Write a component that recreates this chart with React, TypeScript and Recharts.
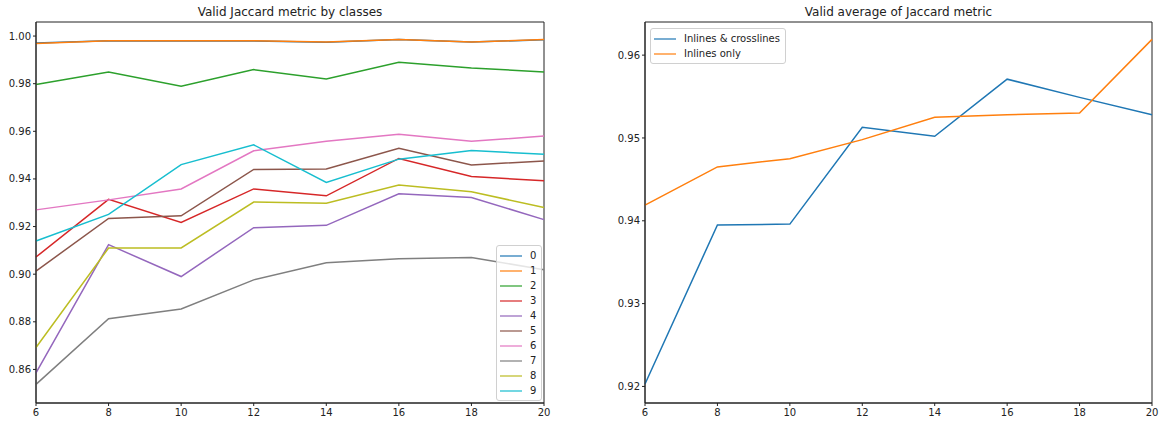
import { LineChart, Line, XAxis, YAxis, Legend, ReferenceArea } from "recharts";

const epochs = [6, 8, 10, 12, 14, 16, 18, 20];

// per-class validation Jaccard
const class0 = [0.9971, 0.998, 0.9979, 0.9979, 0.9974, 0.9985, 0.9975, 0.9984];
const class1 = [0.9969, 0.998, 0.998, 0.998, 0.9975, 0.9986, 0.9975, 0.9985];
const class2 = [0.9797, 0.9849, 0.9789, 0.9859, 0.982, 0.989, 0.9866, 0.9849];
const class3 = [0.9072, 0.9314, 0.9217, 0.9358, 0.9329, 0.9486, 0.941, 0.9392];
const class4 = [0.8586, 0.9124, 0.899, 0.9195, 0.9205, 0.9338, 0.9322, 0.9229];
const class5 = [0.9013, 0.9234, 0.9245, 0.944, 0.9442, 0.9529, 0.9459, 0.9475];
const class6 = [0.927, 0.9312, 0.9358, 0.9518, 0.9558, 0.9588, 0.9558, 0.958];
const class7 = [0.8537, 0.8813, 0.8854, 0.8976, 0.9048, 0.9065, 0.907, 0.9019];
const class8 = [0.8692, 0.911, 0.911, 0.9303, 0.9298, 0.9374, 0.9346, 0.928];
const class9 = [0.9139, 0.9251, 0.946, 0.9543, 0.9385, 0.9483, 0.9519, 0.9504];

// averages
const inlinesCrosslines = [0.9203, 0.9395, 0.9396, 0.9513, 0.9502, 0.9571, 0.9549, 0.9528];
const inlinesOnly = [0.9419, 0.9465, 0.9475, 0.9498, 0.9525, 0.9528, 0.953, 0.9619];

const classSeries = [class0, class1, class2, class3, class4, class5, class6, class7, class8, class9];
const classNames = ["0", "1", "2", "3", "4", "5", "6", "7", "8", "9"];
const COLORS = [
  "#1f77b4", "#ff7f0e", "#2ca02c", "#d62728", "#9467bd",
  "#8c564b", "#e377c2", "#7f7f7f", "#bcbd22", "#17becf",
];

const leftTicksY = [0.86, 0.88, 0.9, 0.92, 0.94, 0.96, 0.98, 1.0];
const rightTicksY = [0.92, 0.93, 0.94, 0.95, 0.96];
const leftDomain = [0.8459, 1.0059];
const rightDomain = [0.918, 0.964];

const classData = epochs.map((e, i) => {
  const row: Record<string, number> = { epoch: e };
  classSeries.forEach((s, k) => (row["c" + k] = s[i]));
  return row;
});
const avgData = epochs.map((e, i) => ({ epoch: e, both: inlinesCrosslines[i], inl: inlinesOnly[i] }));

const FONT = "DejaVu Sans";
const tickStyle = { fontSize: 10, fill: "#222", fontFamily: FONT };

const LegendBox = (props: any) => {
  const items = props.payload || [];
  return (
    <div
      style={{
        background: "rgba(255,255,255,0.8)",
        border: "1px solid #d0d0d0",
        borderRadius: 3,
        padding: "2px 5px 2px 3px",
        fontFamily: FONT,
        fontSize: 10,
        color: "#222",
      }}
    >
      {items.map((it: any) => (
        <div key={it.value} style={{ display: "flex", alignItems: "center", height: 15 }}>
          <svg width={22} height={4} style={{ marginRight: 8 }}>
            <line x1={0} y1={2} x2={22} y2={2} stroke={it.color} strokeWidth={1.5} opacity={0.8} />
          </svg>
          <span>{it.value}</span>
        </div>
      ))}
    </div>
  );
};

export default function App() {
  return (
    <div style={{ position: "absolute", left: 0, top: 0, width: 1165, height: 427, background: "#fff" }}>
      <svg width={1165} height={20} style={{ position: "absolute", left: 0, top: 0 }}>
        <text x={290} y={16} textAnchor="middle" fontFamily={FONT} fontSize={12} fill="#222">
          Valid Jaccard metric by classes
        </text>
        <text x={898.5} y={16} textAnchor="middle" fontFamily={FONT} fontSize={12} fill="#222">
          Valid average of Jaccard metric
        </text>
      </svg>

      <div style={{ position: "absolute", left: 0, top: 0 }}>
        <LineChart width={560} height={427} data={classData} margin={{ top: 22, right: 16, bottom: 0, left: 0 }}>
          <XAxis
            dataKey="epoch"
            type="number"
            domain={[6, 20]}
            ticks={epochs}
            height={24}
            tickSize={3}
            tickMargin={3}
            tick={tickStyle}
            stroke="#222"
          />
          <YAxis
            type="number"
            domain={leftDomain}
            ticks={leftTicksY}
            allowDataOverflow
            width={36}
            tickSize={3}
            tickMargin={2}
            tick={tickStyle}
            tickFormatter={(v: number) => v.toFixed(2)}
            stroke="#222"
          />
          {classNames.map((n, k) => (
            <Line
              key={n}
              dataKey={"c" + k}
              name={n}
              stroke={COLORS[k]}
              strokeWidth={1.5}
              dot={false}
              isAnimationActive={false}
            />
          ))}
          <ReferenceArea
            x1={6}
            x2={20}
            y1={leftDomain[0]}
            y2={leftDomain[1]}
            fill="none"
            stroke="#222"
            strokeWidth={1}
            ifOverflow="visible"
          />
          <Legend
            layout="vertical"
            align="center"
            verticalAlign="middle"
            content={LegendBox}
            wrapperStyle={{ position: "absolute", left: 496, top: 245, width: "auto" }}
          />
        </LineChart>
      </div>

      <div style={{ position: "absolute", left: 600, top: 0 }}>
        <LineChart width={565} height={427} data={avgData} margin={{ top: 22, right: 13, bottom: 0, left: 0 }}>
          <XAxis
            dataKey="epoch"
            type="number"
            domain={[6, 20]}
            ticks={epochs}
            height={24}
            tickSize={3}
            tickMargin={3}
            tick={tickStyle}
            stroke="#222"
          />
          <YAxis
            type="number"
            domain={rightDomain}
            ticks={rightTicksY}
            allowDataOverflow
            width={45}
            tickSize={3}
            tickMargin={2}
            tick={tickStyle}
            tickFormatter={(v: number) => v.toFixed(2)}
            stroke="#222"
          />
          <Line dataKey="both" name="Inlines & crosslines" stroke={COLORS[0]} strokeWidth={1.5} dot={false} isAnimationActive={false} />
          <Line dataKey="inl" name="Inlines only" stroke={COLORS[1]} strokeWidth={1.5} dot={false} isAnimationActive={false} />
          <ReferenceArea
            x1={6}
            x2={20}
            y1={rightDomain[0]}
            y2={rightDomain[1]}
            fill="none"
            stroke="#222"
            strokeWidth={1}
            ifOverflow="visible"
          />
          <Legend
            layout="vertical"
            align="center"
            verticalAlign="middle"
            content={LegendBox}
            wrapperStyle={{ position: "absolute", left: 50, top: 28, width: "auto" }}
          />
        </LineChart>
      </div>
    </div>
  );
}
